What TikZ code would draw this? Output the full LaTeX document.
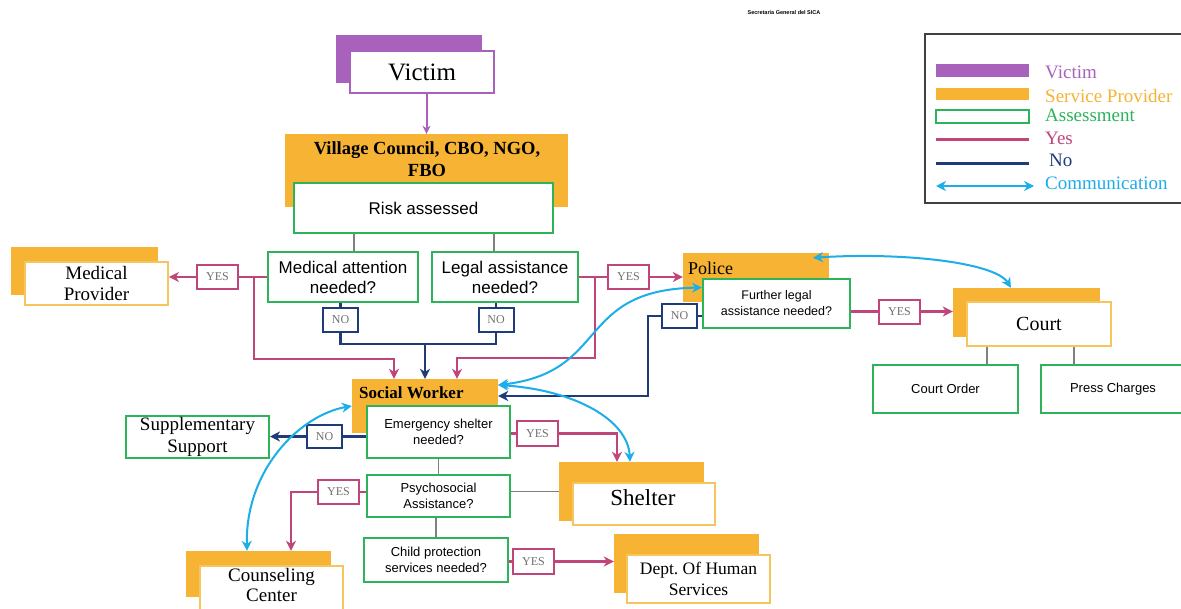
\documentclass[tikz,border=0pt]{standalone}
\usepackage{fontspec}
\setmainfont{Liberation Serif}
\setsansfont{Liberation Sans}
\usetikzlibrary{arrows.meta}
\definecolor{vicC}{HTML}{A862BC}
\definecolor{spC}{HTML}{F6B334}
\definecolor{spF}{HTML}{F7C55E}
\definecolor{asC}{HTML}{2DB35A}
\definecolor{yesC}{HTML}{C0457A}
\definecolor{noC}{HTML}{1F3C78}
\definecolor{comC}{HTML}{1BAEE8}
\definecolor{lblT}{HTML}{707070}
\newcommand{\myfs}[2]{\fontsize{#1}{#2}\selectfont}
\frenchspacing
\tikzset{
  every node/.style={inner sep=0pt, align=center},
  assess/.style={draw=asC, line width=2pt, fill=white, font=\sffamily\myfs{13}{16}},
  provB/.style={fill=spC},
  provF/.style={draw=spF, line width=1.8pt, fill=white, font=\myfs{19}{21}},
  yeslab/.style={draw=yesC, line width=2pt, fill=white, text=lblT, font=\myfs{12}{12}, minimum width=41pt, minimum height=24pt},
  nolab/.style={draw=noC, line width=2pt, fill=white, text=lblT, font=\myfs{12}{12}, minimum width=35pt, minimum height=24pt},
  yesln/.style={draw=yesC, line width=2.5pt},
  noln/.style={draw=noC, line width=2.5pt},
  arr/.style={-{Stealth[length=10pt,width=10pt,inset=3pt]}},
  comm/.style={draw=comC, line width=2pt, {Stealth[length=10pt,width=10pt]}-{Stealth[length=10pt,width=10pt]}},
  grayln/.style={draw=black!50, line width=1.3pt},
  legtxt/.style={anchor=west, font=\myfs{19}{21}}
}
\begin{document}
\begin{tikzpicture}[x=1pt,y=-1pt]
\useasboundingbox (0,0) rectangle (1181,608);
\fill[white] (0,0) rectangle (1181,608);

% title
\node[font=\sffamily\bfseries\myfs{5.5}{6}] (title) at (784,13) {Secretaria General del SICA};

% ---------- Victim
\node[fill=vicC, minimum width=146pt, minimum height=48pt] (vicB) at (409,59) {};
\node[draw=vicC, line width=1.8pt, fill=white, minimum width=144pt, minimum height=42pt, font=\myfs{25}{28}] (vic) at (422,72) {Victim};

% ---------- Village council
\node[fill=spC, minimum width=283pt, minimum height=73pt] (vc) at (426.5,170.5) {};
\node[font=\bfseries\myfs{18.5}{22}] (vct) at (427,159) {Village Council, CBO, NGO,\\FBO};
\node[assess, minimum width=259pt, minimum height=50pt, font=\sffamily\myfs{17}{20}] (risk) at (423.5,208) {Risk assessed};
\draw[draw=vicC, line width=2pt, -{Stealth[length=8pt,width=8pt]}] (vic.south -| vc.north) -- (vc.north);

% ---------- first assessments
\node[assess, minimum width=150pt, minimum height=50pt, font=\sffamily\myfs{17}{20}] (med) at (343,277) {Medical attention\\needed?};
\node[assess, minimum width=146pt, minimum height=50pt, font=\sffamily\myfs{17}{20}] (legal) at (505,277) {Legal assistance\\needed?};
\coordinate (g1) at (354,0);
\coordinate (g2) at (494,0);
\draw[grayln] (risk.south -| g1) -- (med.north -| g1);
\draw[grayln] (risk.south -| g2) -- (legal.north -| g2);

% ---------- Medical provider
\node[provB, minimum width=147pt, minimum height=48pt] (mpB) at (84.5,271) {};
\node[provF, minimum width=143pt, minimum height=43pt] (mp) at (96.5,283.5) {Medical\\Provider};
\node[yeslab] (y1) at (217.5,277) {YES};
\draw[yesln] (med.west) -- (y1.east);
\draw[yesln, arr] (y1.west) -- (y1.west -| mp.east);

% ---------- Social worker
\node[fill=spC, minimum width=146pt, minimum height=54pt] (sw) at (425,406) {};
\node[anchor=west, font=\bfseries\myfs{17}{20}] (swt) at (359,393) {Social Worker};

% YES branches into social worker
\coordinate (mL) at (254,277);
\coordinate (mLb) at (254,359);
\coordinate (aL) at (394,359);
\draw[yesln, arr] (mL) -- (mLb) -- (aL) -- (aL |- sw.north);

% NO boxes
\node[nolab] (n1) at (340.5,319.5) {NO};
\node[nolab] (n2) at (496,319.5) {NO};
\draw[noln] (med.south -| n1.north) -- (n1.north);
\draw[noln] (legal.south -| n2.north) -- (n2.north);
\coordinate (nj) at (0,344);
\coordinate (nc) at (425,344);
\draw[noln] (n1.south) -- (n1.south |- nj) -- (n2.south |- nj) -- (n2.south);
\draw[noln, arr] (nc) -- (nc |- sw.north);

% ---------- Police
\node[fill=spC, minimum width=146pt, minimum height=49pt] (pol) at (756,277.5) {};
\node[anchor=west, font=\myfs{18}{20}] (polt) at (688,268) {Police};
\node[assess, minimum width=147pt, minimum height=49pt, font=\sffamily\myfs{12.5}{16}] (fl) at (776.5,303.5) {Further legal\\assistance needed?};
\node[yeslab] (y2) at (628.5,277) {YES};
\draw[yesln] (legal.east) -- (y2.west);
\draw[yesln, arr] (y2.east) -- (y2.east -| pol.west);
\coordinate (mR) at (595,277);
\coordinate (mRb) at (595,358);
\coordinate (aR) at (457,358);
\draw[yesln, arr] (mR) -- (mRb) -- (aR) -- (aR |- sw.north);

\node[nolab] (n3) at (679.5,316) {NO};
\draw[noln] (n3.east) -- (n3.east -| fl.west);
\coordinate (nP1) at (648,316);
\coordinate (nP2) at (648,396);
\draw[noln, arr] (n3.west) -- (nP1) -- (nP2) -- (nP2 -| sw.east);

% ---------- Court
\node[provB, minimum width=147pt, minimum height=49pt] (ctB) at (1026.5,312.5) {};
\node[provF, minimum width=144pt, minimum height=44pt, font=\myfs{20}{22}] (ct) at (1039,324) {Court};
\node[yeslab] (y3) at (899.5,311.5) {YES};
\draw[yesln] (y3.west -| fl.east) -- (y3.west);
\draw[yesln, arr] (y3.east) -- (y3.east -| ctB.west);
\node[assess, minimum width=145pt, minimum height=48pt] (co) at (945.5,389) {Court Order};
\node[assess, minimum width=144pt, minimum height=48pt] (pc) at (1113,389) {Press Charges};
\coordinate (g3) at (987,0);
\coordinate (g4) at (1074,0);
\draw[grayln] (ct.south -| g3) -- (co.north -| g3);
\draw[grayln] (ct.south -| g4) -- (pc.north -| g4);

% ---------- Social worker assessments
\node[assess, minimum width=143pt, minimum height=52pt] (em) at (438.5,432) {Emergency shelter\\needed?};
\node[assess, minimum width=143pt, minimum height=42pt] (psy) at (438.5,496) {Psychosocial\\Assistance?};
\node[assess, minimum width=144pt, minimum height=44pt] (cp) at (436,560) {Child protection\\services needed?};
\draw[grayln] (em.south) -- (psy.north);
\draw[grayln] (psy.south -| cp.north) -- (cp.north);

% Supplementary support
\node[draw=asC, line width=2pt, fill=white, minimum width=143pt, minimum height=42pt, font=\myfs{19}{22}] (sup) at (197.5,437) {Supplementary\\Support};
\node[nolab, minimum height=23pt] (n4) at (324.5,436.5) {NO};
\draw[noln] (n4.east -| em.west) -- (n4.east);
\draw[noln, arr] (n4.west) -- (n4.west -| sup.east);

% Shelter
\node[provB, minimum width=145pt, minimum height=59pt] (shB) at (631.5,491.5) {};
\node[provF, minimum width=142pt, minimum height=42pt] (sh) at (644,504) {};
\node[font=\myfs{23}{25}] (sht) at (643,498) {Shelter};
\node[yeslab, minimum height=25pt] (y4) at (537.5,433.5) {YES};
\draw[yesln] (y4.west -| em.east) -- (y4.west);
\coordinate (sE) at (617,433.5);
\draw[yesln, arr] (y4.east) -- (sE) -- (sE |- shB.north);
\draw[grayln] (psy.east |- shB.west) -- (shB.west);

% Counseling center
\node[provB, minimum width=145pt, minimum height=46pt] (cnB) at (258.5,574) {};
\node[provF, minimum width=143pt, minimum height=49pt] (cn) at (271.5,590.5) {};
\node[font=\myfs{19}{20}] (cnt) at (271.5,585) {Counseling\\Center};
\node[yeslab] (y5) at (338.5,492) {YES};
\draw[yesln] (y5.east -| psy.west) -- (y5.east);
\coordinate (cE) at (291,492);
\draw[yesln, arr] (y5.west) -- (cE) -- (cE |- cnB.north);

% Dept of human services
\node[provB, minimum width=145pt, minimum height=59pt] (dhB) at (686.5,563.5) {};
\node[provF, minimum width=143pt, minimum height=48pt, font=\myfs{17.5}{21}] (dh) at (698.5,579) {Dept. Of Human\\Services};
\node[yeslab, minimum height=25pt] (y6) at (533.5,561.5) {YES};
\draw[yesln] (y6.west -| cp.east) -- (y6.west);
\draw[yesln, arr] (y6.east) -- (y6.east -| dhB.west);

% ---------- communication
\draw[comm] (sw.west) .. controls (300,415) and (245,470) .. ([xshift=-11.5pt]cnB.north);
\draw[comm] ([yshift=21pt]sw.east) .. controls (610,372) and (575,290) .. ([yshift=16pt]fl.west);
\draw[comm] ([yshift=21pt]sw.east) .. controls (575,390) and (628,420) .. ([xshift=-1.5pt]shB.north);
\draw[comm] ([yshift=-5pt,xshift=57pt]pol.north) .. controls (900,252) and (995,262) .. ([xshift=-15.5pt]ctB.north);

% ---------- legend
\draw[draw=black!75, line width=2pt] (925,34) rectangle (1196,203);
\fill[vicC] (936,64) rectangle (1029,77);
\node[legtxt, text=vicC] (lv) at (1045,72) {Victim};
\fill[spC] (936,88) rectangle (1029,100);
\node[legtxt, text=spC] (ls) at (1045,96) {Service Provider};
\draw[draw=asC, line width=2pt] (936,110) rectangle (1029,123);
\node[legtxt, text=asC] (la) at (1045,115) {Assessment};
\draw[yesln, line width=3pt] (936,139) -- (1029,139);
\node[legtxt, text=yesC] (ly) at (1045,138) {Yes};
\draw[noln, line width=3pt] (936,163) -- (1029,163);
\node[legtxt, text=noC] (ln) at (1049,160) {No};
\draw[comm, line width=2.5pt] (936,186) -- (1034,186);
\node[legtxt, text=comC] (lc) at (1045,183) {Communication};
\end{tikzpicture}
\end{document}
